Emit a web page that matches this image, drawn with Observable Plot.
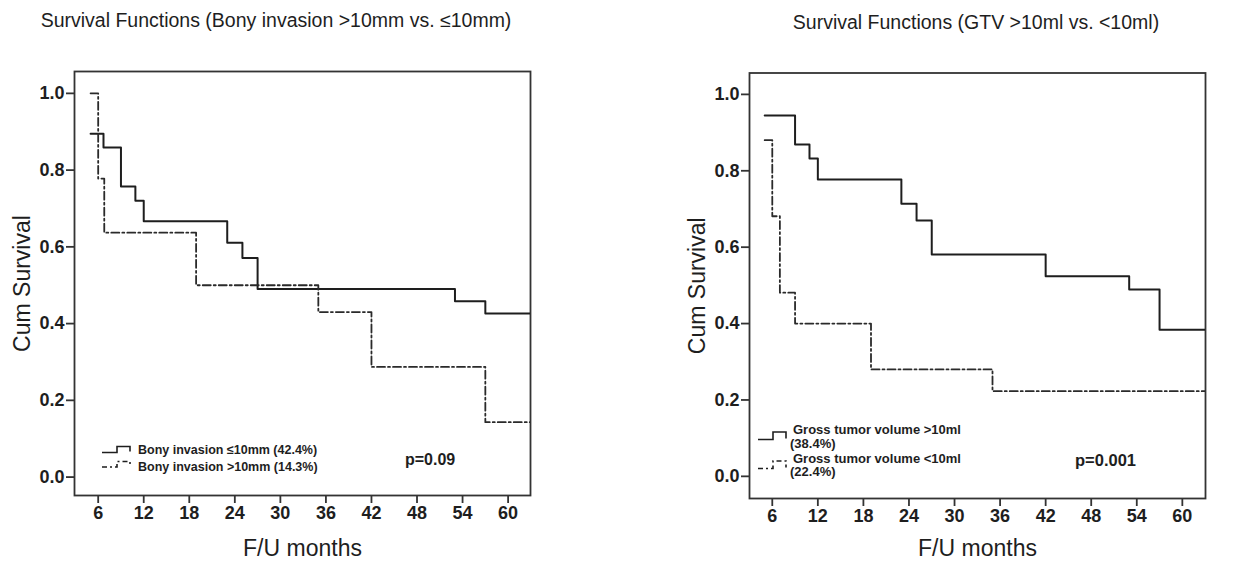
<!DOCTYPE html>
<html>
<head>
<meta charset="utf-8">
<script src="https://cdn.jsdelivr.net/npm/d3@7"></script>
<script src="https://cdn.jsdelivr.net/npm/@observablehq/plot@0.6"></script>
<style>
  html, body { margin: 0; padding: 0; background: #fff; }
  #root { position: relative; width: 1259px; height: 561px; overflow: hidden; font-family: "Liberation Sans", Arial, sans-serif; color: #222; }
  .panel { position: absolute; top: 0; }
  #overlay { position: absolute; left: 0; top: 0; pointer-events: none; }
</style>
</head>
<body>
<div id="root">
  <div id="left" class="panel" style="left:0px"></div>
  <div id="right" class="panel" style="left:630px"></div>
</div>
<script>
// ---- data ----
const xTicks = [6, 12, 18, 24, 30, 36, 42, 48, 54, 60];
const yTicks = [0, 0.2, 0.4, 0.6, 0.8, 1.0];

const titles = ["Survival Functions (Bony invasion >10mm vs. \u226410mm)", "Survival Functions (GTV >10ml vs. <10ml)"];
const xLabel = "F/U months";
const yLabel = "Cum Survival";

// Left panel: bony invasion
const boneLowMonths = [5, 6.7, 9, 10.9, 12, 23, 25, 27, 53, 57, 63];
const boneLowSurv   = [0.895, 0.859, 0.757, 0.72, 0.667, 0.611, 0.571, 0.49, 0.458, 0.426, 0.426];
const boneHighMonths = [5, 6, 6.8, 18.9, 35, 42, 57, 63];
const boneHighSurv   = [1.0, 0.778, 0.637, 0.5, 0.43, 0.287, 0.143, 0.143];
const boneLegend = ["Bony invasion \u226410mm (42.4%)", "Bony invasion >10mm (14.3%)"];
const boneP = "p=0.09";

// Right panel: gross tumor volume
const gtvHighMonths = [5, 9, 10.9, 12, 23, 25, 27, 42, 53, 57, 63];
const gtvHighSurv   = [0.945, 0.869, 0.832, 0.777, 0.714, 0.670, 0.581, 0.524, 0.489, 0.384, 0.384];
const gtvLowMonths = [5, 6, 7, 9, 19, 35, 63];
const gtvLowSurv   = [0.880, 0.681, 0.481, 0.40, 0.280, 0.223, 0.223];
const gtvLegend = [["Gross tumor volume >10ml", "(38.4%)"], ["Gross tumor volume <10ml", "(22.4%)"]];
const gtvP = "p=0.001";

// ---- build ----
const ink = "#1e1e1e";
const dash = "8,3,2,3";
const toRows = (m, s) => m.map((t, i) => ({t, s: s[i]}));

function panel(cfg) {
  return Plot.plot({
    width: cfg.width, height: 561,
    marginLeft: cfg.ml, marginRight: cfg.mr, marginTop: cfg.mt, marginBottom: cfg.mb,
    style: {fontFamily: "'Liberation Sans', Arial, sans-serif", color: ink, background: "transparent", overflow: "visible"},
    x: {domain: cfg.xdom},
    y: {domain: cfg.ydom},
    marks: [
      Plot.frame({stroke: "#333", strokeWidth: 1.8}),
      Plot.axisX(xTicks, {tickSize: 8, tickPadding: 3, fontSize: 18, fontWeight: "bold", label: null, stroke: "#333", strokeWidth: 1.8, fill: ink}),
      Plot.axisY(yTicks, {tickSize: 8, tickPadding: 2, fontSize: 18, fontWeight: "bold", label: null, tickFormat: d3.format(".1f"), stroke: "#333", strokeWidth: 1.8, fill: ink}),
      Plot.line(toRows(cfg.solidM, cfg.solidS), {x: "t", y: "s", curve: "step-after", stroke: ink, strokeWidth: 2, clip: true}),
      Plot.line(toRows(cfg.dashM, cfg.dashS), {x: "t", y: "s", curve: "step-after", stroke: "#2a2a2a", strokeWidth: 1.8, strokeDasharray: dash, clip: true}),
      Plot.text([xLabel], {frameAnchor: "bottom", dy: cfg.xlabDy, lineAnchor: "middle", fontSize: 23, fill: ink}),
      Plot.text([yLabel], {frameAnchor: "left", dx: -52, rotate: -90, textAnchor: "middle", lineAnchor: "middle", fontSize: 23, fill: ink})
    ]
  });
}

document.getElementById("left").appendChild(panel({
  width: 630, ml: 74, mr: 100, mt: 71, mb: 66,
  xdom: [2.88, 62.95], ydom: [-0.048, 1.057],
  solidM: boneLowMonths, solidS: boneLowSurv, dashM: boneHighMonths, dashS: boneHighSurv,
  xlabDy: 53
}));
document.getElementById("right").appendChild(panel({
  width: 629, ml: 119, mr: 54, mt: 72.5, mb: 63,
  xdom: [3.0, 63.05], ydom: [-0.058, 1.056],
  solidM: gtvHighMonths, solidS: gtvHighSurv, dashM: gtvLowMonths, dashS: gtvLowSurv,
  xlabDy: 50
}));

// ---- titles, legends and p-values (overlay) ----
const ns = "http://www.w3.org/2000/svg";
const ov = document.createElementNS(ns, "svg");
ov.setAttribute("id", "overlay");
ov.setAttribute("width", 1259);
ov.setAttribute("height", 561);
ov.setAttribute("font-family", "'Liberation Sans', Arial, sans-serif");
document.getElementById("root").appendChild(ov);

function txt(s, x, y, size, weight, anchor) {
  const t = document.createElementNS(ns, "text");
  t.setAttribute("x", x); t.setAttribute("y", y);
  t.setAttribute("font-size", size); t.setAttribute("font-weight", weight || "normal");
  t.setAttribute("text-anchor", anchor || "start");
  t.setAttribute("dominant-baseline", "central");
  t.setAttribute("fill", ink);
  t.textContent = s;
  ov.appendChild(t);
}
function glyph(x0, yLow, yHigh, dashed) {
  const p = document.createElementNS(ns, "path");
  const xm = x0 + 15, x1 = x0 + 28;
  p.setAttribute("d", `M${x0},${yLow}H${xm}V${yHigh}H${x1}V${yLow - 1}`);
  p.setAttribute("fill", "none");
  p.setAttribute("stroke", ink);
  p.setAttribute("stroke-width", 1.6);
  if (dashed) p.setAttribute("stroke-dasharray", "5,3,2,3");
  ov.appendChild(p);
}

txt(titles[0], 276, 20, 19.5, "normal", "middle");
txt(titles[1], 976, 22, 19.5, "normal", "middle");

// left legend
glyph(102, 452.5, 446.5, false);
txt(boneLegend[0], 138, 450, 12.5, "bold");
glyph(102, 467, 461.5, true);
txt(boneLegend[1], 138, 467, 12.5, "bold");
txt(boneP, 405, 459, 16, "bold");

// right legend
glyph(758, 439.5, 432, false);
txt(gtvLegend[0][0], 793, 429, 13, "bold");
txt(gtvLegend[0][1], 790, 443, 13, "bold");
glyph(758, 468.5, 461, true);
txt(gtvLegend[1][0], 793, 458, 13, "bold");
txt(gtvLegend[1][1], 790, 471.5, 13, "bold");
txt(gtvP, 1075, 460, 16.5, "bold");
</script>
</body>
</html>
